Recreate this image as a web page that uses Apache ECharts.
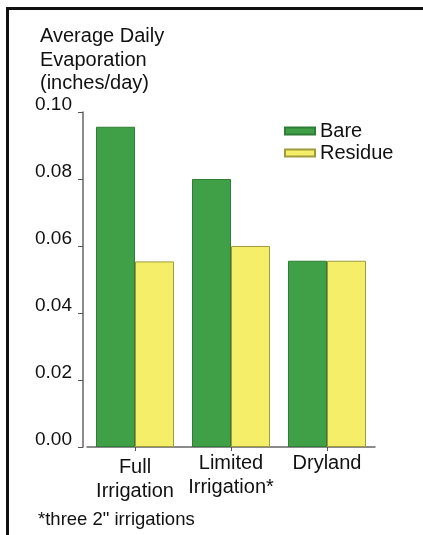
<!DOCTYPE html>
<html>
<head>
<meta charset="utf-8">
<script src="https://cdn.jsdelivr.net/npm/echarts@6/dist/echarts.min.js"></script>
<style>
html,body{margin:0;padding:0;background:#fff;}
#chart{width:423px;height:535px;position:absolute;left:0;top:0;}
#frame{position:absolute;left:6px;top:7px;right:0;bottom:0;border-top:3px solid #111;border-left:3px solid #111;pointer-events:none;}
</style>
</head>
<body>
<div id="chart"></div>
<div id="frame"></div>
<script>
const categories = ['Full\nIrrigation', 'Limited\nIrrigation*', 'Dryland'];
const seriesNames = ['Bare', 'Residue'];
const bareValues = [0.0956, 0.080, 0.0556];
const residueValues = [0.0554, 0.060, 0.0556];
const yTicks = [0, 0.02, 0.04, 0.06, 0.08, 0.10];
const titleText = 'Average Daily\nEvaporation\n(inches/day)';
const footnote = '*three 2" irrigations';

const FONT = "'Liberation Sans', Arial, Helvetica, sans-serif";
const chart = echarts.init(document.getElementById('chart'), null, {renderer: 'canvas'});

const catData = categories.map((c, i) => i === 0
  ? {value: c, textStyle: {padding: [4, 0, 0, 0]}}
  : c);

chart.setOption({
  animation: false,
  backgroundColor: '#fff',
  title: [
    {text: titleText, left: 40, top: 25, padding: 0,
     textStyle: {fontFamily: FONT, fontSize: 20, fontWeight: 'normal', color: '#111', lineHeight: 23.5}},
    {text: footnote, left: 38, top: 510, padding: 0,
     textStyle: {fontFamily: FONT, fontSize: 18.5, fontWeight: 'normal', color: '#111', lineHeight: 20}}
  ],
  legend: {
    data: seriesNames, orient: 'vertical', left: 284, top: 121, padding: 0,
    itemWidth: 30, itemHeight: 7, itemGap: 2, icon: 'rect',
    textStyle: {fontFamily: FONT, fontSize: 20, color: '#111', lineHeight: 20}
  },
  grid: {left: 87, width: 288, top: 112, bottom: 88, containLabel: false},
  xAxis: {
    type: 'category', data: catData,
    axisLine: {lineStyle: {color: '#666', width: 1.5}},
    axisTick: {show: true, alignWithLabel: true, length: 4, lineStyle: {color: '#555'}},
    axisLabel: {fontFamily: FONT, fontSize: 20, color: '#111', lineHeight: 24.5, margin: 4, interval: 0}
  },
  yAxis: {
    type: 'value', min: 0, max: 0.10, interval: 0.02, offset: 4,
    axisLine: {show: true, lineStyle: {color: '#666', width: 1.5}},
    axisTick: {show: true, length: 5, lineStyle: {color: '#555'}},
    splitLine: {show: false},
    axisLabel: {fontFamily: FONT, fontSize: 19, color: '#111', margin: 11,
      verticalAlign: 'bottom', lineHeight: 14,
      formatter: v => {
        const t = yTicks.find(x => Math.abs(x - v) < 1e-9);
        return (t !== undefined ? t : v).toFixed(2);
      }}
  },
  series: [
    {name: seriesNames[0], type: 'bar', data: bareValues, barWidth: 39, barGap: '0%',
     itemStyle: {color: '#40a047', borderColor: '#2f7d36', borderWidth: 1}},
    {name: seriesNames[1], type: 'bar', data: residueValues, barWidth: 39, barGap: '0%',
     itemStyle: {color: '#f4ee68', borderColor: '#9f9b3c', borderWidth: 1}}
  ]
});
</script>
</body>
</html>
